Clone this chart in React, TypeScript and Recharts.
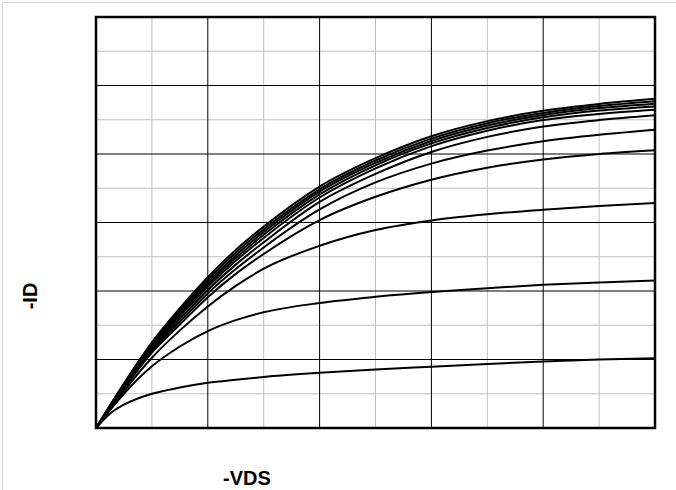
import { CartesianGrid, Line, LineChart, ReferenceArea, XAxis, YAxis } from 'recharts';

// -VDS sample points
const vds = [0, 0.25, 0.5, 1, 1.5, 2, 2.5, 3, 4, 5, 6, 7, 8, 9, 10];

// -ID curves, lowest gate drive first
const id1 = [0, 0.42, 0.68, 1.0, 1.18, 1.32, 1.41, 1.49, 1.61, 1.71, 1.79, 1.87, 1.94, 2.0, 2.04];
const id2 = [0, 0.52, 1.0, 1.8, 2.38, 2.83, 3.15, 3.38, 3.65, 3.83, 3.97, 4.08, 4.18, 4.25, 4.31];
const id3 = [0, 0.55, 1.08, 2.05, 2.85, 3.55, 4.15, 4.65, 5.32, 5.78, 6.06, 6.24, 6.37, 6.48, 6.57];
const id4 = [0, 0.59, 1.15, 2.2, 3.02, 3.82, 4.5, 5.08, 6.07, 6.75, 7.25, 7.6, 7.84, 8.0, 8.11];
const id5 = [0, 0.6, 1.18, 2.25, 3.1, 3.93, 4.64, 5.27, 6.38, 7.17, 7.72, 8.1, 8.37, 8.56, 8.71];
const id6 = [0, 0.61, 1.2, 2.3, 3.18, 4.03, 4.77, 5.42, 6.6, 7.42, 8.06, 8.5, 8.8, 8.99, 9.13];
const id7 = [0, 0.62, 1.22, 2.34, 3.26, 4.12, 4.88, 5.55, 6.73, 7.58, 8.23, 8.68, 8.99, 9.17, 9.29];
const id8 = [0, 0.63, 1.24, 2.38, 3.32, 4.19, 4.96, 5.64, 6.82, 7.67, 8.31, 8.76, 9.07, 9.27, 9.39];
const id9 = [0, 0.64, 1.26, 2.42, 3.38, 4.26, 5.04, 5.72, 6.9, 7.74, 8.38, 8.83, 9.14, 9.34, 9.47];
const id10 = [0, 0.65, 1.28, 2.46, 3.44, 4.33, 5.12, 5.8, 6.97, 7.81, 8.45, 8.9, 9.2, 9.4, 9.54];
const id11 = [0, 0.66, 1.3, 2.5, 3.5, 4.4, 5.2, 5.88, 7.05, 7.88, 8.52, 8.96, 9.26, 9.46, 9.61];

const curves = [id1, id2, id3, id4, id5, id6, id7, id8, id9, id10, id11];

// grid divisions
const xMinor = [1, 3, 5, 7, 9];
const xMajor = [2, 4, 6, 8];
const yMinor = [1, 3, 5, 7, 9, 11];
const yMajor = [2, 4, 6, 8, 10];

const data = vds.map((v, i) => {
  const row: Record<string, number> = { vds: v };
  curves.forEach((c, k) => {
    row['c' + k] = c[i];
  });
  return row;
});

const labelStyle: React.CSSProperties = {
  position: 'absolute',
  fontFamily: '"Liberation Sans", Arial, sans-serif',
  fontWeight: 'bold',
  fontSize: 20,
  color: '#000',
  whiteSpace: 'nowrap'
};

export default function App() {
  return (
    <div style={{ position: 'absolute', left: 0, top: 0, width: 676, height: 490, background: '#fff', overflow: 'hidden' }}>
      <div style={{ position: 'absolute', left: 2, top: 2, width: 680, height: 500, borderTop: '1px solid #d9d9d9', borderLeft: '1px solid #d9d9d9' }} />
      <LineChart width={676} height={490} data={data} margin={{ top: 17, right: 21, bottom: 62, left: 96 }}>
        <XAxis dataKey="vds" type="number" domain={[0, 10]} hide />
        <YAxis type="number" domain={[0, 12]} hide />
        <CartesianGrid stroke="#c0c0c0" strokeWidth={1} horizontalValues={yMinor} verticalValues={xMinor} />
        <CartesianGrid stroke="#000" strokeWidth={1} horizontalValues={yMajor} verticalValues={xMajor} />
        {curves.map((_, k) => (
          <Line
            key={k}
            dataKey={'c' + k}
            type="monotone"
            stroke="#000"
            strokeWidth={2}
            dot={false}
            isAnimationActive={false}
          />
        ))}
        <ReferenceArea x1={0} x2={10} y1={0} y2={12} fill="none" stroke="#000" strokeWidth={2.5} />
      </LineChart>
      <div style={{ ...labelStyle, left: 247, top: 478, transform: 'translate(-50%, -50%)' }}>-VDS</div>
      <div style={{ ...labelStyle, left: 30, top: 296, transform: 'translate(-50%, -50%) rotate(-90deg)' }}>-ID</div>
    </div>
  );
}
